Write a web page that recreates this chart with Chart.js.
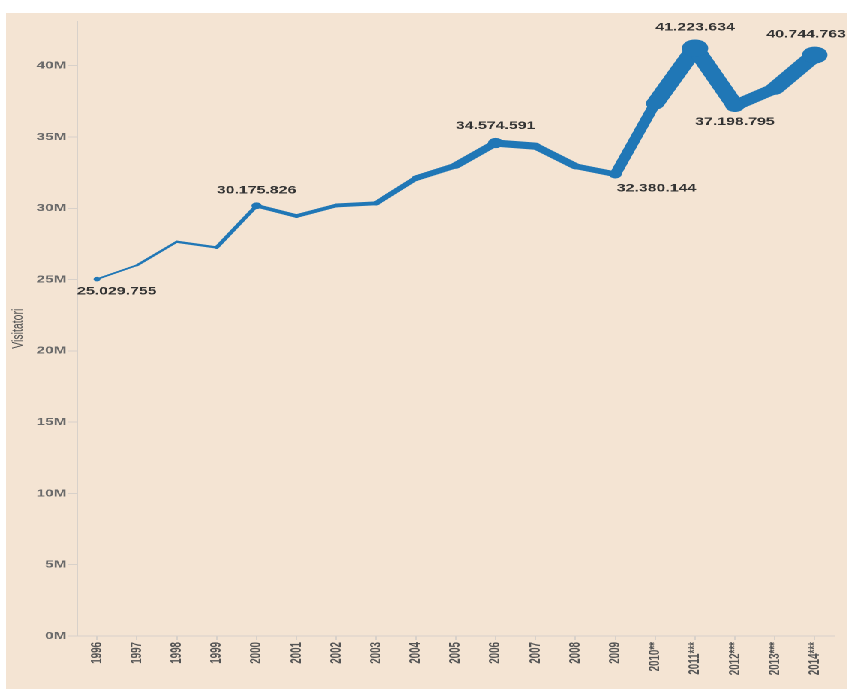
<!DOCTYPE html>
<html>
<head>
<meta charset="utf-8">
<script src="https://cdn.jsdelivr.net/npm/chart.js@4/dist/chart.umd.min.js"></script>
<style>
  body { margin: 0; background: #fff; }
  /* the picture is stretched sideways, so the chart is drawn narrow and widened */
  #wrap {
    position: absolute;
    left: 6px;
    top: 13px;
    width: 561px;
    height: 676px;
    background: #f4e4d3;
    transform: scaleX(1.5);
    transform-origin: 0 0;
  }
</style>
</head>
<body>
<div id="wrap"><canvas id="myChart"></canvas></div>
<script>
const years = [
  "1996", "1997", "1998", "1999", "2000", "2001", "2002", "2003", "2004",
  "2005", "2006", "2007", "2008", "2009", "2010**", "2011***", "2012***",
  "2013***", "2014***",
];
const visitors = [
  25029755, 26000000, 27650000, 27250000, 30175826, 29450000, 30200000,
  30350000, 32100000, 33000000, 34574591, 34350000, 32950000, 32380144,
  37350000, 41223634, 37198795, 38400000, 40744763,
];
const yTicks = [0, 5e6, 10e6, 15e6, 20e6, 25e6, 30e6, 35e6, 40e6];

// points with a dot and a value label, and where the label goes
const labelled = [0, 4, 10, 13, 15, 16, 18];
const labelSide = ["below", "above", "above", "below", "above", "below", "above"];
const labelAlign = ["center", "center", "center", "left", "center", "center", "center"];

const blue = "#2077b6";

// line gets thicker with the value (size encoding)
function widthFor(v) {
  let t = Math.max(0, (v - 24.5e6) / 16.7e6);
  return 1.5 + 13 * Math.pow(t, 1.6);
}

function dotFor(v) {
  return widthFor(v) / 2 + 1.5;
}

function fmt(v) {
  return String(v).replace(/\B(?=(\d{3})+(?!\d))/g, ".");
}

const valueLabels = {
  id: "valueLabels",
  afterDatasetsDraw(chart) {
    const ctx = chart.ctx;
    const meta = chart.getDatasetMeta(0);
    const area = chart.chartArea;
    ctx.save();
    ctx.font = "bold 10.6px 'Liberation Sans', Arial, sans-serif";
    ctx.fillStyle = "#333";
    ctx.textAlign = "center";
    ctx.textBaseline = "middle";
    labelled.forEach((i, k) => {
      const pt = meta.data[i];
      const v = visitors[i];
      const text = fmt(v);
      const half = ctx.measureText(text).width / 2;
      let x = labelAlign[k] === "left" ? pt.x + half + 1 : pt.x;
      x = Math.max(x, area.left + half);
      x = Math.min(x, chart.width - 1 - half);
      const y = labelSide[k] === "above"
        ? pt.y - (dotFor(v) + 12)
        : pt.y + (dotFor(v) + 10);
      ctx.fillText(text, x, y);
    });
    ctx.restore();
  },
};

const cfg = {
  type: "line",
  data: {
    labels: years,
    datasets: [
      {
        label: "Visitatori",
        data: visitors,
        borderColor: blue,
        backgroundColor: blue,
        fill: false,
        tension: 0,
        borderCapStyle: "round",
        borderJoinStyle: "round",
        segment: {
          borderWidth: (c) => (widthFor(c.p0.parsed.y) + widthFor(c.p1.parsed.y)) / 2,
        },
        pointRadius: (c) => (labelled.includes(c.dataIndex) ? dotFor(visitors[c.dataIndex]) : 0),
        pointBorderWidth: 0,
        pointBackgroundColor: blue,
      },
    ],
  },
  options: {
    responsive: true,
    maintainAspectRatio: false,
    devicePixelRatio: 2,
    animation: false,
    events: [],
    layout: { padding: { left: 0, right: 1, top: 0, bottom: 0 } },
    plugins: {
      legend: { display: false },
      tooltip: { enabled: false },
    },
    scales: {
      x: {
        offset: true,
        grid: {
          drawOnChartArea: false,
          tickLength: 4,
          color: "#d8d1ca",
        },
        border: { color: "#d8d1ca" },
        ticks: {
          minRotation: 90,
          maxRotation: 90,
          padding: 2,
          color: "#555",
          font: { family: "'Liberation Sans', Arial, sans-serif", size: 9.8, weight: "bold" },
        },
        afterFit: (s) => {
          s.height = 53;
        },
      },
      y: {
        min: 0,
        max: 43.1e6,
        grid: {
          drawOnChartArea: false,
          tickLength: 6,
          color: "#d8d1ca",
        },
        border: { color: "#d8d1ca" },
        afterBuildTicks: (s) => {
          s.ticks = yTicks.map((v) => ({ value: v }));
        },
        ticks: {
          padding: 1,
          color: "#6a6a6a",
          font: { family: "'Liberation Sans', Arial, sans-serif", size: 10.3, weight: "bold" },
          callback: (v) => v / 1e6 + "M",
        },
        title: {
          display: true,
          text: "Visitatori",
          color: "#555",
          padding: { top: 2, bottom: 0 },
          font: { family: "'Liberation Sans', Arial, sans-serif", size: 10.5 },
        },
        afterFit: (s) => {
          s.width = 47.3;
          s.paddingTop = 0;
        },
      },
    },
  },
  plugins: [valueLabels],
};

const ctx = document.getElementById("myChart");

new Chart(ctx, cfg);
</script>
</body>
</html>
